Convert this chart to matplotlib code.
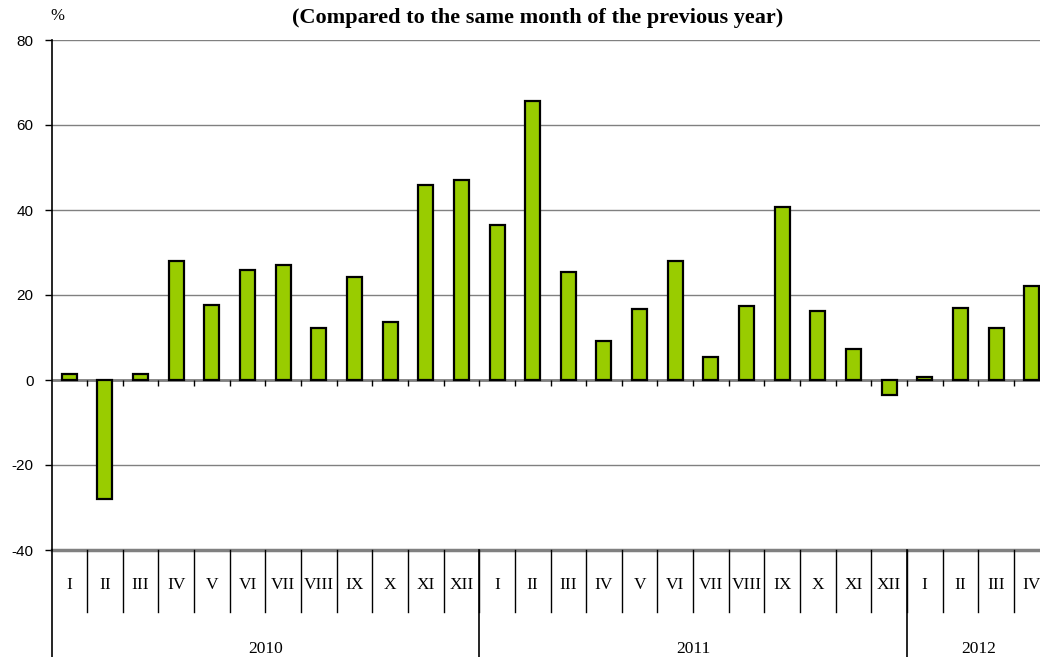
import matplotlib.pyplot as plt
import matplotlib.transforms as mtransforms
import numpy as np

plt.rcParams['axes.unicode_minus'] = False

# data
months = ['I', 'II', 'III', 'IV', 'V', 'VI', 'VII', 'VIII', 'IX', 'X', 'XI', 'XII']
years = ['2010', '2011', '2012']
months_per_year = [12, 12, 4]
values_2010 = [1.5, -28, 1.5, 28, 17.6, 26, 27, 12.2, 24.2, 13.6, 46, 47]
values_2011 = [36.5, 65.6, 25.3, 9.1, 16.6, 27.9, 5.3, 17.4, 40.6, 16.3, 7.4, -3.5]
values_2012 = [0.8, 16.9, 12.2, 22.2]

values = values_2010 + values_2011 + values_2012
labels = []
for n in months_per_year:
    labels += months[:n]
x = np.arange(len(values))

fig = plt.figure(figsize=(10.4, 6.57), dpi=100)
ax = fig.add_axes([51.5/1040, 1 - 550/657, 998/1040, 510/657])

ax.bar(x, values, width=0.42, color='#99CC00', edgecolor='black', linewidth=1.6, zorder=3)

ax.set_ylim(-40, 80)
ax.set_xlim(-0.5, len(values) - 0.5)
ax.set_yticks(np.arange(-40, 81, 20))
ax.yaxis.grid(True, color='#808080', linewidth=1.0)
ax.axhline(0, color='#808080', linewidth=2, zorder=2)
ax.axhline(-40, color='#808080', linewidth=2.5, zorder=2, clip_on=False)
ax.tick_params(axis='y', direction='out', length=5, width=1, labelsize=11, pad=8)
for lab in ax.get_yticklabels():
    lab.set_fontfamily('Liberation Sans')
ax.set_xticks([])
for s in ['top', 'right', 'bottom']:
    ax.spines[s].set_visible(False)
ax.spines['left'].set_linewidth(1.2)
ax.spines['left'].set_bounds(-40, 80)

# small ticks on the zero line between categories
ax.vlines(x[1:] - 0.5, -1.4, 0, color='black', linewidth=1, zorder=2)

# category axis below the plot
trans = mtransforms.blended_transform_factory(ax.transData, ax.transAxes)
sep_low = -62/510
for k in x[1:]:
    ax.plot([k - 0.5, k - 0.5], [0, sep_low], color='black', linewidth=1,
            transform=trans, clip_on=False)
for k, lab in zip(x, labels):
    ax.text(k, -35/510, lab, transform=trans, ha='center', va='center',
            fontsize=12.5, family='Liberation Serif')

start = 0
for yr, n in zip(years, months_per_year):
    ax.plot([start - 0.5, start - 0.5], [0, -0.25], color='black', linewidth=1.2,
            transform=trans, clip_on=False)
    ax.text(start - 0.5 + n / 2, -91/510, yr, transform=trans, ha='center', va='top',
            fontsize=12.5, family='Liberation Serif')
    start += n

fig.text(538/1040, 1 - 18/657, '(Compared to the same month of the previous year)',
         ha='center', va='center', fontsize=16, fontweight='bold', family='Liberation Serif')
fig.text(57/1040, 1 - 16/657, '%', ha='center', va='center', fontsize=12,
         family='Liberation Serif')

fig.savefig('out.png', dpi=100)
